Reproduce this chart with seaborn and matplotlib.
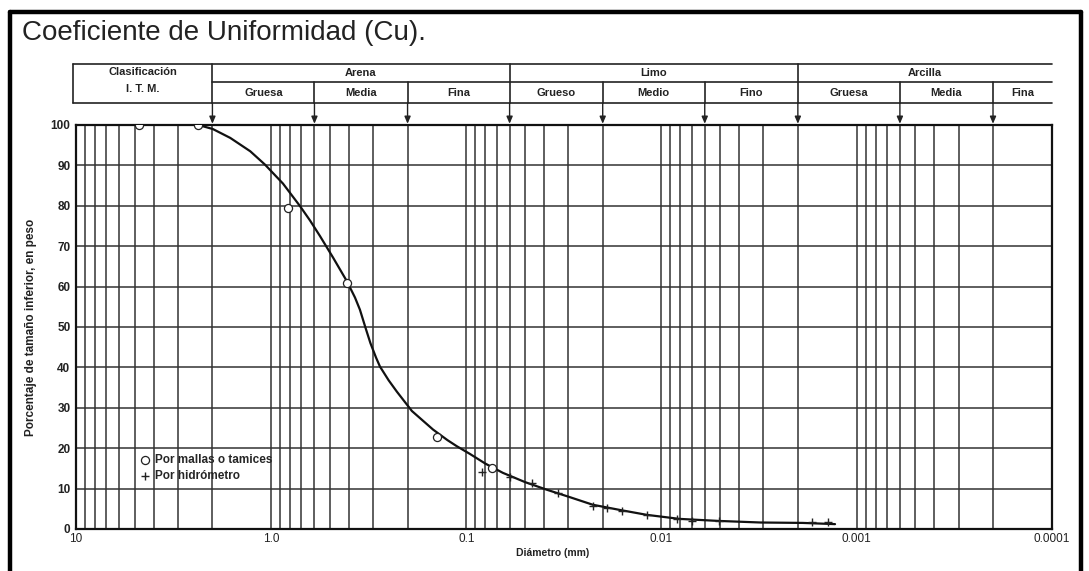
import numpy as np
import pandas as pd
import matplotlib
matplotlib.use("Agg")
import matplotlib.pyplot as plt
import matplotlib.transforms as mtransforms
from matplotlib.lines import Line2D
from matplotlib.ticker import LogLocator, NullFormatter, FixedLocator
import seaborn as sns

# Sieve results (open circles)
sieve_diam = [4.75, 2.36, 0.82, 0.41, 0.142, 0.074]
sieve_pct = [100, 100, 79.5, 61.0, 22.7, 15.2]

# Hydrometer results (plus marks)
hydro_diam = [0.083, 0.060, 0.046, 0.034, 0.0225, 0.019, 0.016, 0.0119,
              0.0083, 0.0070, 0.0051, 0.0017, 0.0014]
hydro_pct = [14.1, 12.9, 11.4, 8.9, 5.7, 5.2, 4.5, 3.5, 2.5, 2.0, 2.0, 1.7, 1.7]

# Grading curve
curve_diam = [2.36, 1.99, 1.62, 1.28, 1.076, 0.87, 0.711, 0.633, 0.562, 0.482,
              0.409, 0.372, 0.351, 0.327, 0.310, 0.290, 0.277, 0.250, 0.227,
              0.190, 0.165, 0.148, 0.125, 0.112, 0.096, 0.080, 0.065, 0.050,
              0.0386, 0.030, 0.0225, 0.0163, 0.0119, 0.0081, 0.00514, 0.0031,
              0.00189, 0.00129]
curve_pct = [100, 99.0, 96.8, 93.5, 90.2, 85.5, 79.9, 76.4, 72.5, 67.2,
             61.3, 57.3, 54.3, 49.5, 46.0, 42.4, 40.2, 36.8, 34.0,
             29.2, 26.6, 24.6, 22.0, 20.5, 18.6, 16.2, 13.9, 11.6,
             9.7, 8.0, 6.0, 4.7, 3.5, 2.5, 2.0, 1.6,
             1.5, 1.2]

# I.T.M. classification
group_names = ["Arena", "Limo", "Arcilla"]
group_bounds = [2.0, 0.06, 0.002, 0.0001]
sub_names = ["Gruesa", "Media", "Fina", "Grueso", "Medio", "Fino",
             "Gruesa", "Media", "Fina"]
sub_bounds = [2.0, 0.6, 0.2, 0.06, 0.02, 0.006, 0.002, 0.0006, 0.0002, 0.0001]

x_ticks = [10, 1, 0.1, 0.01, 0.001, 0.0001]
x_tick_labels = ["10", "1.0", "0.1", "0.01", "0.001", "0.0001"]
y_ticks = list(range(0, 101, 10))

sns.set_theme(style="white")
plt.rcParams["font.family"] = ["Liberation Sans", "DejaVu Sans"]

fig = plt.figure(figsize=(10.89, 5.71), dpi=100)
ax = fig.add_axes([0.0698, 0.0736, 0.896, 0.7075])
ax.set_xscale("log")

curve = pd.DataFrame({"d": curve_diam, "p": curve_pct})
sieves = pd.DataFrame({"d": sieve_diam, "p": sieve_pct})
hydro = pd.DataFrame({"d": hydro_diam, "p": hydro_pct})

sns.lineplot(data=curve, x="d", y="p", ax=ax, color="#111111", lw=1.6,
             estimator=None, sort=False, zorder=3)
sns.scatterplot(data=sieves, x="d", y="p", ax=ax, marker="o", s=34,
                facecolor="white", edgecolor="#222222", linewidth=0.9,
                zorder=4, label="Por mallas o tamices")
sns.scatterplot(data=hydro, x="d", y="p", ax=ax, marker="+", s=26,
                color="#222222", linewidth=1.0, zorder=4,
                label="Por hidrómetro")

ax.set_xlim(10, 0.0001)
ax.set_ylim(0, 100)
ax.xaxis.set_major_locator(FixedLocator(x_ticks))
ax.set_xticklabels(x_tick_labels)
ax.xaxis.set_minor_locator(LogLocator(base=10, subs=np.arange(2, 10)))
ax.xaxis.set_minor_formatter(NullFormatter())
ax.set_yticks(y_ticks)
ax.tick_params(which="both", length=0)
ax.tick_params(axis="x", labelsize=8.5, pad=3, colors="#222222")
ax.tick_params(axis="y", labelsize=8.5, pad=4, colors="#222222")
for lab in ax.get_yticklabels():
    lab.set_fontweight("bold")

ax.grid(True, which="both", axis="x", color="#333333", lw=1.1)
ax.grid(True, which="major", axis="y", color="#333333", lw=1.1)
for sp in ax.spines.values():
    sp.set_color("#111111")
    sp.set_linewidth(1.6)

ax.set_xlabel("Diámetro (mm)", fontsize=7.5, fontweight="bold", x=0.488,
              labelpad=2, color="#222222")
ax.set_ylabel("Porcentaje de tamaño inferior, en peso", fontsize=8.5,
              fontweight="bold", labelpad=10, color="#222222")

ax.legend(loc="upper left", bbox_to_anchor=(0.06, 0.2), frameon=False,
          prop={"size": 8.5, "weight": "bold"}, handlelength=0.7,
          handletextpad=0.5, borderpad=0, labelspacing=0.35)

# Classification header above the plot
bt = mtransforms.blended_transform_factory(ax.transData, ax.transAxes)
y_top, y_mid, y_bot = 1.151, 1.106, 1.054
x_left = 10.36
hdr = dict(color="#222222", lw=1.2, clip_on=False, transform=bt)
ax.plot([x_left, 0.0001], [y_top, y_top], **hdr)
ax.plot([x_left, 0.0001], [y_bot, y_bot], **hdr)
ax.plot([group_bounds[0], 0.0001], [y_mid, y_mid], **hdr)
ax.plot([x_left, x_left], [y_bot, y_top], **hdr)

txt = dict(transform=bt, ha="center", va="center", fontsize=8,
           fontweight="bold", color="#222222", clip_on=False)
box_c = np.sqrt(x_left * group_bounds[0])
ax.text(box_c, (y_top + y_mid) / 2 + 0.002, "Clasificación", **txt)
ax.text(box_c, (y_mid + y_bot) / 2 + 0.008, "I. T. M.", **txt)

for name, a, b in zip(group_names, group_bounds[:-1], group_bounds[1:]):
    ax.text(np.sqrt(a * b), (y_top + y_mid) / 2, name, **txt)
for name, a, b in zip(sub_names, sub_bounds[:-1], sub_bounds[1:]):
    ax.text(np.sqrt(a * b), (y_mid + y_bot) / 2, name, **txt)

for b in sub_bounds[:-1]:
    start = y_top if b in group_bounds else y_mid
    ax.plot([b, b], [start, y_bot], **hdr)
    ax.annotate("", xy=(b, 1.003), xycoords=bt, xytext=(b, y_bot),
                textcoords=bt,
                arrowprops=dict(arrowstyle="-|>,head_length=0.35,head_width=0.15",
                                color="#222222", lw=1.0, shrinkA=0, shrinkB=0),
                annotation_clip=False)

# Title and outer frame
fig.text(22 / 1089, 1 - 33 / 571, "Coeficiente de Uniformidad (Cu).",
         fontsize=20, va="center", ha="left", color="#222222")
frame = dict(color="black", lw=3.2, transform=fig.transFigure)
fig.add_artist(Line2D([10 / 1089, 10 / 1089], [0, 1 - 12 / 571], **frame))
fig.add_artist(Line2D([10 / 1089, 1081 / 1089], [1 - 12 / 571, 1 - 12 / 571], **frame))
fig.add_artist(Line2D([1081 / 1089, 1081 / 1089], [0, 1 - 12 / 571], **frame))

fig.savefig("out.png", dpi=100, facecolor="white")
